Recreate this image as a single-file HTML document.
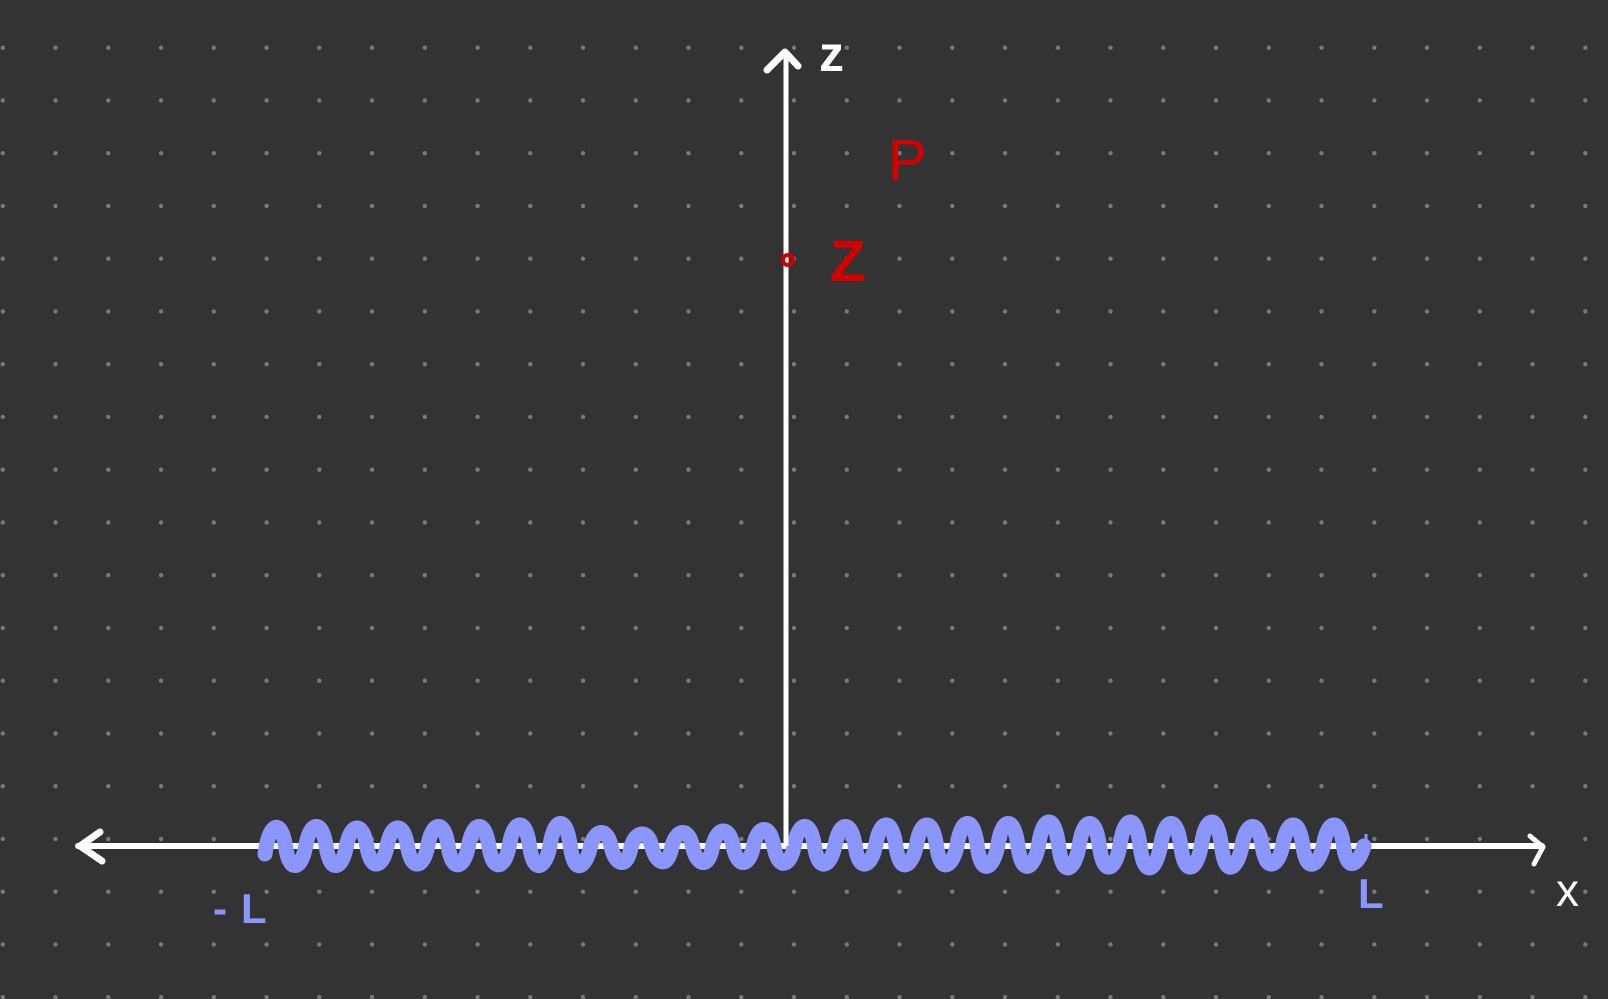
<!DOCTYPE html>
<html><head><meta charset="utf-8"><style>
html,body{margin:0;padding:0;background:#333333;}
svg{display:block;}
text{font-family:"Liberation Sans",sans-serif;}
</style></head><body>
<svg id="chart" width="1608" height="999" viewBox="0 0 1608 999" xmlns="http://www.w3.org/2000/svg">
<rect x="0" y="0" width="1608" height="999" fill="#333333"/>
<g id="dots"></g>
<line x1="78" y1="846" x2="1542" y2="846" stroke="#fff" stroke-width="6" stroke-linecap="round"/>
<g id="spring"></g>
<path d="M100 832 L80 846 L102 861" fill="none" stroke="#fff" stroke-width="7" stroke-linecap="round" stroke-linejoin="round"/>
<path d="M1530 836 L1543 847 L1534 864" fill="none" stroke="#fff" stroke-width="5" stroke-linecap="round" stroke-linejoin="round"/>
<line x1="786" y1="52" x2="786" y2="846" stroke="#fff" stroke-width="5"/>
<path d="M767 70 L785 52 L798 66" fill="none" stroke="#fff" stroke-width="7" stroke-linecap="round" stroke-linejoin="round"/>
<text x="819" y="71" fill="#fff" font-size="50" font-weight="bold">z</text>
<text x="1556" y="906" fill="#fff" font-size="46">x</text>
<text x="888" y="180" fill="#d40000" font-size="58">P</text>
<circle cx="788" cy="260" r="5" fill="none" stroke="#d40000" stroke-width="4"/>
<text x="830" y="281" fill="#d40000" font-size="58" font-weight="bold">Z</text>
<text x="213" y="923" fill="#8a96fc" font-size="42" font-weight="bold" letter-spacing="14">-L</text>
<text x="1358" y="908" fill="#8a96fc" font-size="42" font-weight="bold">L</text>
</svg>
<script>
// coil peak heights above the axis (px) and trough depths below the axis (px), per coil
const coilPeaks = [20,20,18,18,20,20,22,24,12,10,12,14,16,20,20,22,22,24,24,26,24,26,24,26,20,22,22];
const coilTroughs = [18,18,16,16,16,16,16,14,18,18,18,16,16,14,14,14,14,16,16,18,18,18,18,16,14,12,10];
const springStart = -1, springEnd = 1; // -L to L
const dotSpacing = 52.75;

const svg = document.getElementById('chart');
const NS = 'http://www.w3.org/2000/svg';
const xScale = v => 814.5 + v * 549.5;
const axisY = 846;

const dots = document.getElementById('dots');
for (let x = 2.8; x < 1608; x += dotSpacing) {
  for (let y = 47.7 - dotSpacing; y < 999; y += dotSpacing) {
    if (y < 0) continue;
    const c = document.createElementNS(NS, 'circle');
    
    
    c.setAttribute('cx', x.toFixed(1)); c.setAttribute('cy', y.toFixed(1));
    c.setAttribute('r', '2.2'); c.setAttribute('fill', '#7a7a7a');
    dots.appendChild(c);
  }
}

const x0 = xScale(springStart), x1 = xScale(springEnd);
const n = coilPeaks.length;
const period = (x1 - x0) / n;
let d = `M${x0.toFixed(1)} ${axisY + 8}`;
for (let i = 0; i < n; i++) {
  const xs = x0 + i * period;
  const up = axisY - coilPeaks[i];
  const dn = axisY + coilTroughs[i];
  d += ` C${(xs + period * 0.1).toFixed(1)} ${up - 4} ${(xs + period * 0.4).toFixed(1)} ${up - 8} ${(xs + period * 0.5).toFixed(1)} ${axisY}`;
  d += ` S${(xs + period * 0.9).toFixed(1)} ${dn + 6} ${(xs + period).toFixed(1)} ${axisY}`;
}
const sp = document.getElementById('spring');
const path = document.createElementNS(NS, 'path');


path.setAttribute('d', d);
path.setAttribute('fill', 'none'); path.setAttribute('stroke', '#8a96fc');
path.setAttribute('stroke-width', '15'); path.setAttribute('stroke-linecap', 'round'); path.setAttribute('stroke-linejoin', 'round');
sp.appendChild(path);
[x0 - 2, x1 + 2].forEach(x => {
  const t = document.createElementNS(NS, 'line');
  
  
  t.setAttribute('x1', x); t.setAttribute('x2', x);
  t.setAttribute('y1', axisY - 12); t.setAttribute('y2', axisY + 12);
  t.setAttribute('stroke', '#8a96fc'); t.setAttribute('stroke-width', '3');
  sp.appendChild(t);
});
</script>
</body></html>
